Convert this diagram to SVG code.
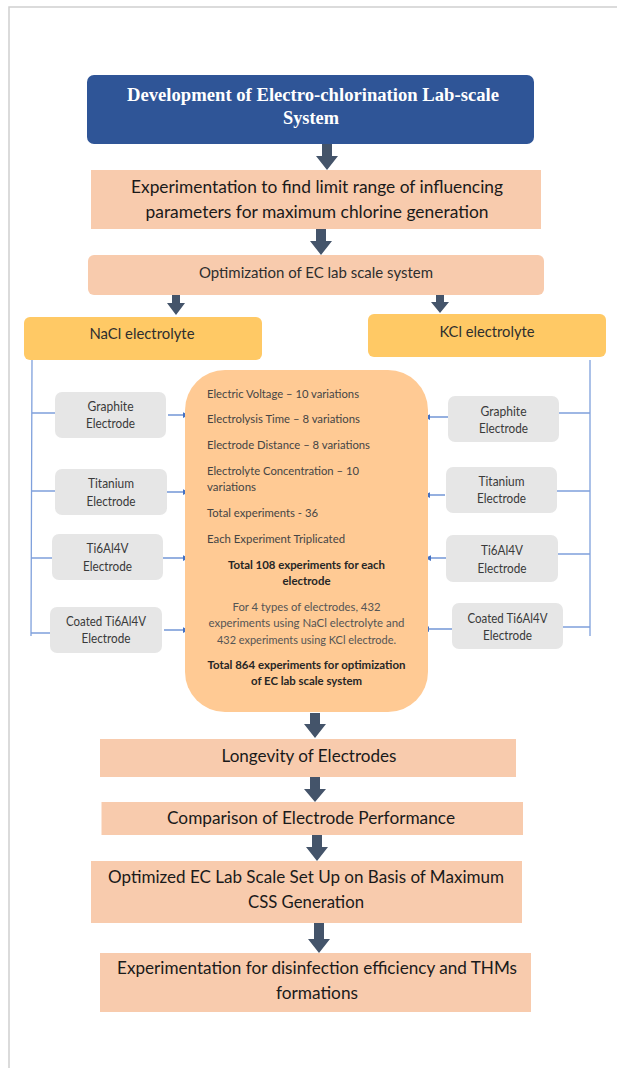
<svg xmlns="http://www.w3.org/2000/svg" width="617" height="1068" viewBox="0 0 617 1068">
<style>
.frame{stroke:#D0D0D0;stroke-width:1.5;fill:none}
.peach{fill:#F8CBAD}
.gold{fill:#FFC965}
.gray{fill:#E6E6E6}
.core{fill:#FFCA94}
.title{font-family:"Liberation Serif",serif;font-weight:bold;font-size:18.5px;fill:#FFFFFF;text-anchor:middle}
.big{font-family:Lato,"Liberation Sans",sans-serif;font-size:18px;fill:#1A1A1A;text-anchor:middle}
.mid{font-family:Lato,"Liberation Sans",sans-serif;font-size:15px;fill:#2E2E2E;text-anchor:middle}
.el{font-family:Lato,"Liberation Sans",sans-serif;font-size:12.5px;fill:#3A3A3A;text-anchor:middle}
.sm{font-family:Lato,"Liberation Sans",sans-serif;font-size:12px;fill:#454545}
.smc{font-family:Lato,"Liberation Sans",sans-serif;font-size:12px;fill:#555555;text-anchor:middle}
.smb{font-family:Lato,"Liberation Sans",sans-serif;font-size:12px;font-weight:bold;fill:#262626;text-anchor:middle}
.blk{fill:#44546A}
.tree{stroke:#7FA0DC;stroke-width:1.3;fill:none}
.lnk{stroke:#5B86D0;stroke-width:1.3;fill:none;marker-end:url(#ah)}
</style>
<defs>
<marker id="ah" viewBox="0 0 8 8" refX="7" refY="4" markerWidth="6" markerHeight="6" markerUnits="userSpaceOnUse" orient="auto">
<path d="M0,0 L8,4 L0,8 z" fill="#4472C4"/>
</marker>
</defs>
<rect width="617" height="1068" fill="#FFFFFF"/>
<path class="frame" d="M9,1068 V7 H617"/>

<g id="connectors">
<path class="blk" d="M322,144 H332 V156 H338 L327,170 L316,156 H322 Z"/>
<path class="blk" d="M316,229 H326 V241 H332 L321,255 L310,241 H316 Z"/>
<path class="blk" d="M172,294 H180 V303 H185 L176,315 L167,303 H172 Z"/>
<path class="blk" d="M436,294 H444 V302 H449 L440,313 L431,302 H436 Z"/>
<path class="blk" d="M310,713 H320 V724 H326 L315,738 L304,724 H310 Z"/>
<path class="blk" d="M310,777 H320 V789 H326 L315,802 L304,789 H310 Z"/>
<path class="blk" d="M312,835 H322 V847 H328 L317,861 L306,847 H312 Z"/>
<path class="blk" d="M314,923 H324 V939 H330 L319,953 L308,939 H314 Z"/>
<path class="tree" d="M32,360 L31,636 M32,413 H55 M31,491 H55 M31,558 H52 M31,633 H50"/>
<path class="tree" d="M590,360 V636 M559,413 H590 M557,491 H590 M558,554 H590 M563,627 H590"/>
<path class="lnk" d="M168,415 H188"/>
<path class="lnk" d="M167,492 H188"/>
<path class="lnk" d="M163,558 H188"/>
<path class="lnk" d="M164,630 H188"/>
<path class="lnk" d="M448,417 H425"/>
<path class="lnk" d="M445,495 H425"/>
<path class="lnk" d="M448,558 H426"/>
<path class="lnk" d="M452,629 H424"/>
</g>

<g id="title">
<rect x="87" y="75" width="447" height="69" rx="7" fill="#2F5597"/>
<text class="title" x="313" y="101" textLength="372" lengthAdjust="spacingAndGlyphs">Development of Electro-chlorination Lab-scale</text>
<text class="title" x="311" y="124" textLength="56" lengthAdjust="spacingAndGlyphs">System</text>
</g>

<g id="experimentation">
<rect class="peach" x="91" y="170" width="450" height="59"/>
<text class="big" x="317" y="193" textLength="372" lengthAdjust="spacingAndGlyphs">Experimentation to find limit range of influencing</text>
<text class="big" x="317" y="218" textLength="343" lengthAdjust="spacingAndGlyphs">parameters for maximum chlorine generation</text>
</g>

<g id="optimization">
<rect class="peach" x="88" y="255" width="456" height="40" rx="6"/>
<text class="mid" x="316" y="278" textLength="234" lengthAdjust="spacingAndGlyphs">Optimization of EC lab scale system</text>
</g>

<g id="nacl">
<rect class="gold" x="24" y="317" width="238" height="43" rx="6"/>
<text class="mid" x="142" y="339" textLength="105" lengthAdjust="spacingAndGlyphs">NaCl electrolyte</text>
</g>

<g id="kcl">
<rect class="gold" x="368" y="314" width="238" height="43" rx="6"/>
<text class="mid" x="487" y="337" textLength="95" lengthAdjust="spacingAndGlyphs">KCl electrolyte</text>
</g>

<g id="left-graphite">
<rect class="gray" x="55" y="392" width="111" height="46" rx="7"/>
<text class="el" x="110.5" y="411" textLength="46" lengthAdjust="spacingAndGlyphs">Graphite</text>
<text class="el" x="110.5" y="428" textLength="49" lengthAdjust="spacingAndGlyphs">Electrode</text>
</g>
<g id="left-titanium">
<rect class="gray" x="55" y="469" width="112" height="46" rx="7"/>
<text class="el" x="111" y="488" textLength="46" lengthAdjust="spacingAndGlyphs">Titanium</text>
<text class="el" x="111" y="506" textLength="49" lengthAdjust="spacingAndGlyphs">Electrode</text>
</g>
<g id="left-ti6al4v">
<rect class="gray" x="52" y="534" width="111" height="46" rx="7"/>
<text class="el" x="107.5" y="553" textLength="42" lengthAdjust="spacingAndGlyphs">Ti6Al4V</text>
<text class="el" x="107.5" y="571" textLength="49" lengthAdjust="spacingAndGlyphs">Electrode</text>
</g>
<g id="left-coated">
<rect class="gray" x="50" y="607" width="112" height="46" rx="7"/>
<text class="el" x="106" y="626" textLength="80" lengthAdjust="spacingAndGlyphs">Coated Ti6Al4V</text>
<text class="el" x="106" y="643" textLength="49" lengthAdjust="spacingAndGlyphs">Electrode</text>
</g>

<g id="right-graphite">
<rect class="gray" x="448" y="396" width="111" height="46" rx="7"/>
<text class="el" x="503.5" y="416" textLength="46" lengthAdjust="spacingAndGlyphs">Graphite</text>
<text class="el" x="503.5" y="433" textLength="49" lengthAdjust="spacingAndGlyphs">Electrode</text>
</g>
<g id="right-titanium">
<rect class="gray" x="446" y="467" width="111" height="46" rx="7"/>
<text class="el" x="501.5" y="486" textLength="46" lengthAdjust="spacingAndGlyphs">Titanium</text>
<text class="el" x="501.5" y="503" textLength="49" lengthAdjust="spacingAndGlyphs">Electrode</text>
</g>
<g id="right-ti6al4v">
<rect class="gray" x="446" y="535" width="112" height="47" rx="7"/>
<text class="el" x="502" y="555" textLength="42" lengthAdjust="spacingAndGlyphs">Ti6Al4V</text>
<text class="el" x="502" y="573" textLength="49" lengthAdjust="spacingAndGlyphs">Electrode</text>
</g>
<g id="right-coated">
<rect class="gray" x="452" y="603" width="111" height="46" rx="7"/>
<text class="el" x="507.5" y="623" textLength="80" lengthAdjust="spacingAndGlyphs">Coated Ti6Al4V</text>
<text class="el" x="507.5" y="640" textLength="49" lengthAdjust="spacingAndGlyphs">Electrode</text>
</g>

<g id="parameters">
<rect class="core" x="185" y="370" width="243" height="342" rx="40"/>
<text class="sm" x="207" y="398" textLength="152" lengthAdjust="spacingAndGlyphs">Electric Voltage – 10 variations</text>
<text class="sm" x="207" y="423" textLength="153" lengthAdjust="spacingAndGlyphs">Electrolysis Time – 8 variations</text>
<text class="sm" x="207" y="449" textLength="163" lengthAdjust="spacingAndGlyphs">Electrode Distance – 8 variations</text>
<text class="sm" x="207" y="475" textLength="152" lengthAdjust="spacingAndGlyphs">Electrolyte Concentration – 10</text>
<text class="sm" x="207" y="491" textLength="49" lengthAdjust="spacingAndGlyphs">variations</text>
<text class="sm" x="207" y="517" textLength="111" lengthAdjust="spacingAndGlyphs">Total experiments - 36</text>
<text class="sm" x="207" y="543" textLength="138" lengthAdjust="spacingAndGlyphs">Each Experiment Triplicated</text>
<text class="smb" x="306.5" y="569" textLength="157" lengthAdjust="spacingAndGlyphs">Total 108 experiments for each</text>
<text class="smb" x="306.5" y="585" textLength="48" lengthAdjust="spacingAndGlyphs">electrode</text>
<text class="smc" x="306.5" y="611" textLength="148" lengthAdjust="spacingAndGlyphs">For 4 types of electrodes, 432</text>
<text class="smc" x="306.5" y="627" textLength="196" lengthAdjust="spacingAndGlyphs">experiments using NaCl electrolyte and</text>
<text class="smc" x="306.5" y="644" textLength="179" lengthAdjust="spacingAndGlyphs">432 experiments using KCl electrode.</text>
<text class="smb" x="306.5" y="669" textLength="198" lengthAdjust="spacingAndGlyphs">Total 864 experiments for optimization</text>
<text class="smb" x="306.5" y="685" textLength="111" lengthAdjust="spacingAndGlyphs">of EC lab scale system</text>
</g>

<g id="longevity">
<rect class="peach" x="100" y="739" width="416" height="38"/>
<text class="big" x="309" y="762" textLength="175" lengthAdjust="spacingAndGlyphs">Longevity of Electrodes</text>
</g>

<g id="comparison">
<rect class="peach" x="101.5" y="802" width="421.5" height="33"/>
<text class="big" x="311" y="824" textLength="288" lengthAdjust="spacingAndGlyphs">Comparison of Electrode Performance</text>
</g>

<g id="optimized">
<rect class="peach" x="91" y="861" width="431" height="62"/>
<text class="big" x="306" y="883" textLength="396" lengthAdjust="spacingAndGlyphs">Optimized EC Lab Scale Set Up on Basis of Maximum</text>
<text class="big" x="306" y="908" textLength="116" lengthAdjust="spacingAndGlyphs">CSS Generation</text>
</g>

<g id="disinfection">
<rect class="peach" x="100" y="953" width="431" height="59"/>
<text class="big" x="317" y="974" textLength="400" lengthAdjust="spacingAndGlyphs">Experimentation for disinfection efficiency and THMs</text>
<text class="big" x="317" y="999" textLength="82" lengthAdjust="spacingAndGlyphs">formations</text>
</g>
</svg>
